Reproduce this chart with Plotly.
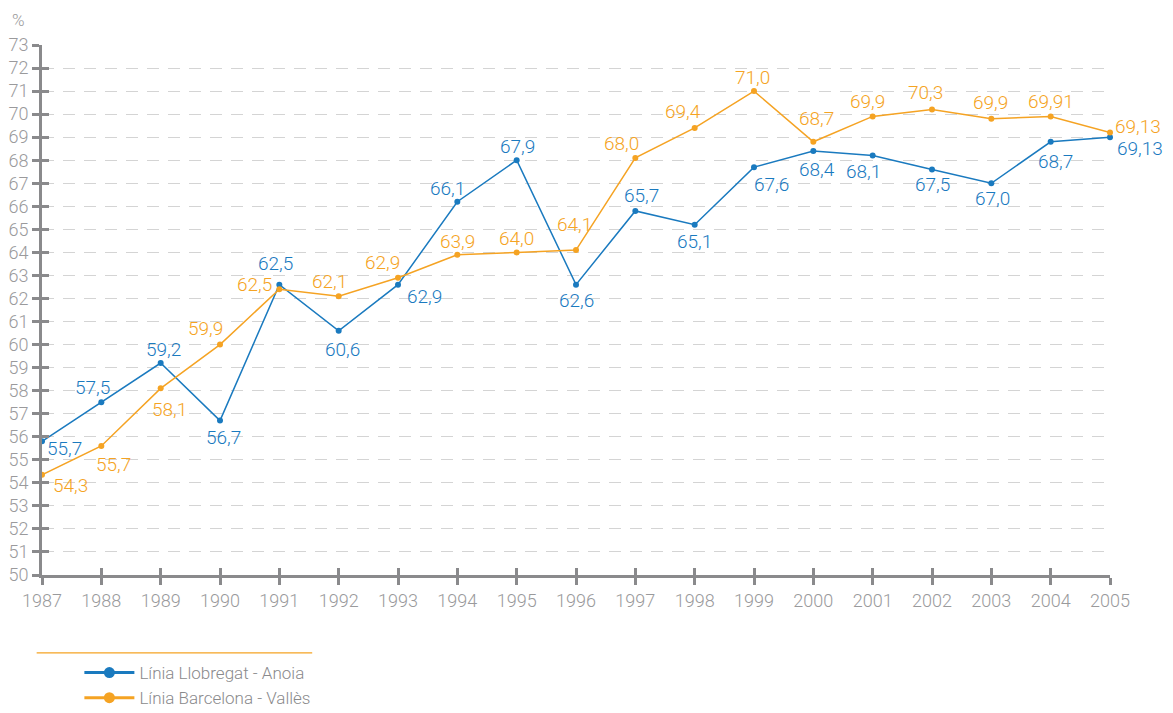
import plotly.graph_objects as go

years = list(range(1987, 2006))
llobregat = [55.8, 57.5, 59.2, 56.7, 62.6, 60.6, 62.6, 66.2, 68.0, 62.6, 65.8, 65.2, 67.7, 68.4, 68.2, 67.6, 67.0, 68.8, 69.0]
llobregat_labels = ["55,7", "57,5", "59,2", "56,7", "62,5", "60,6", "62,9", "66,1", "67,9", "62,6", "65,7", "65,1", "67,6", "68,4", "68,1", "67,5", "67,0", "68,7", "69,13"]
valles = [54.35, 55.6, 58.1, 60.0, 62.4, 62.1, 62.9, 63.9, 64.0, 64.1, 68.1, 69.4, 71.0, 68.8, 69.9, 70.2, 69.8, 69.9, 69.2]
valles_labels = ["54,3", "55,7", "58,1", "59,9", "62,5", "62,1", "62,9", "63,9", "64,0", "64,1", "68,0", "69,4", "71,0", "68,7", "69,9", "70,3", "69,9", "69,91", "69,13"]
yticks = list(range(50, 74))

blue = "#1a7abf"
orange = "#f5a323"
gray = "#8a8a8c"
label_gray = "#9a9a9c"
font_family = "Roboto, Arial"

# label offsets in pixels (dx right, dy down) relative to each point
blue_off = [(22, 7), (-9, -15), (3, -14), (3, 17), (-4, -21), (4, 19), (26, 12), (-10, -13),
            (1, -14), (0, 16), (6, -15), (0, 17), (17, 17), (4, 18), (-9, 16), (0, 15),
            (1, 15), (5, 20), (30, 11)]
orange_off = [(28, 11), (12, 19), (9, 21), (-15, -16), (-25, -5), (-9, -15), (-16, -15), (0, -13),
              (0, -14), (-2, -26), (-14, -14), (-12, -16), (-2, -14), (3, -23), (-5, -15),
              (-7, -17), (-1, -16), (0, -15), (28, -6)]

fig = go.Figure()
fig.add_trace(go.Scatter(
    x=years, y=llobregat, mode="lines+markers", name="Línia Llobregat - Anoia",
    line=dict(color=blue, width=1.5), marker=dict(color=blue, size=6),
    cliponaxis=False, showlegend=False))
fig.add_trace(go.Scatter(
    x=years, y=valles, mode="lines+markers", name="Línia Barcelona - Vallès",
    line=dict(color=orange, width=1.5), marker=dict(color=orange, size=6),
    cliponaxis=False, showlegend=False))
# legend entries (larger symbols as in the reference)
fig.add_trace(go.Scatter(x=[None], y=[None], mode="lines+markers", name="Línia Llobregat - Anoia",
                         line=dict(color=blue, width=3), marker=dict(color=blue, size=11)))
fig.add_trace(go.Scatter(x=[None], y=[None], mode="lines+markers", name="Línia Barcelona - Vallès",
                         line=dict(color=orange, width=3), marker=dict(color=orange, size=11)))

for xs, ys, labels, offs, col in [(years, llobregat, llobregat_labels, blue_off, blue),
                                  (years, valles, valles_labels, orange_off, orange)]:
    for xv, yv, t, (dx, dy) in zip(xs, ys, labels, offs):
        fig.add_annotation(x=xv, y=yv, xref="x", yref="y", text=t, showarrow=False,
                           xshift=dx, yshift=-dy, xanchor="center", yanchor="middle",
                           font=dict(family=font_family, size=19, color=col, weight=300))

fig.update_layout(
    width=1173, height=713,
    margin=dict(l=34, r=71, t=37, b=146, autoexpand=False),
    paper_bgcolor="white", plot_bgcolor="white",
    font=dict(family=font_family, color=label_gray, weight=300),
    xaxis=dict(range=[1987, 2005], tickvals=years, ticktext=[str(y) for y in years],
               showgrid=False, zeroline=False, showline=True, linecolor=gray, linewidth=3,
               ticks="outside", ticklen=7, tickwidth=3, tickcolor=gray, automargin=False,
               tickfont=dict(size=18, color=label_gray, weight=300)),
    xaxis2=dict(range=[1987, 2005], tickvals=years, overlaying="x", showticklabels=False,
                showgrid=False, zeroline=False, showline=False, automargin=False,
                ticks="inside", ticklen=7, tickwidth=3, tickcolor=gray),
    yaxis=dict(range=[50, 73], tickvals=yticks, showgrid=True, gridcolor="#d4d4d4",
               griddash="12px,9px", gridwidth=1, zeroline=False, showline=True,
               linecolor=gray, linewidth=3, ticks="outside", ticklen=7, tickwidth=3,
               tickcolor=gray, automargin=False,
               tickfont=dict(size=18, color=label_gray, weight=300)),
    yaxis2=dict(range=[50, 73], tickvals=yticks, overlaying="y", showticklabels=False,
                showgrid=False, zeroline=False, showline=False, automargin=False,
                ticks="inside", ticklen=7, tickwidth=3, tickcolor=gray),
    legend=dict(x=0.035, y=-0.151, xanchor="left", yanchor="top",
                font=dict(size=17, color=gray, weight=300), tracegroupgap=0,
                itemwidth=50, bgcolor="rgba(0,0,0,0)"),
    showlegend=True,
)

fig.add_trace(go.Scatter(x=[1987], y=[50], xaxis="x2", yaxis="y2", mode="markers",
                         marker=dict(opacity=0), showlegend=False, hoverinfo="skip"))

fig.add_annotation(text="%", xref="paper", yref="paper", x=-0.022, y=1.047,
                   showarrow=False, font=dict(size=17, color=label_gray, weight=300),
                   xanchor="center", yanchor="middle")
fig.add_shape(type="line", xref="paper", yref="paper", x0=-0.005, x1=0.253,
              y0=-0.147, y1=-0.147, line=dict(color=orange, width=1.2))

fig.write_html("out.html")
